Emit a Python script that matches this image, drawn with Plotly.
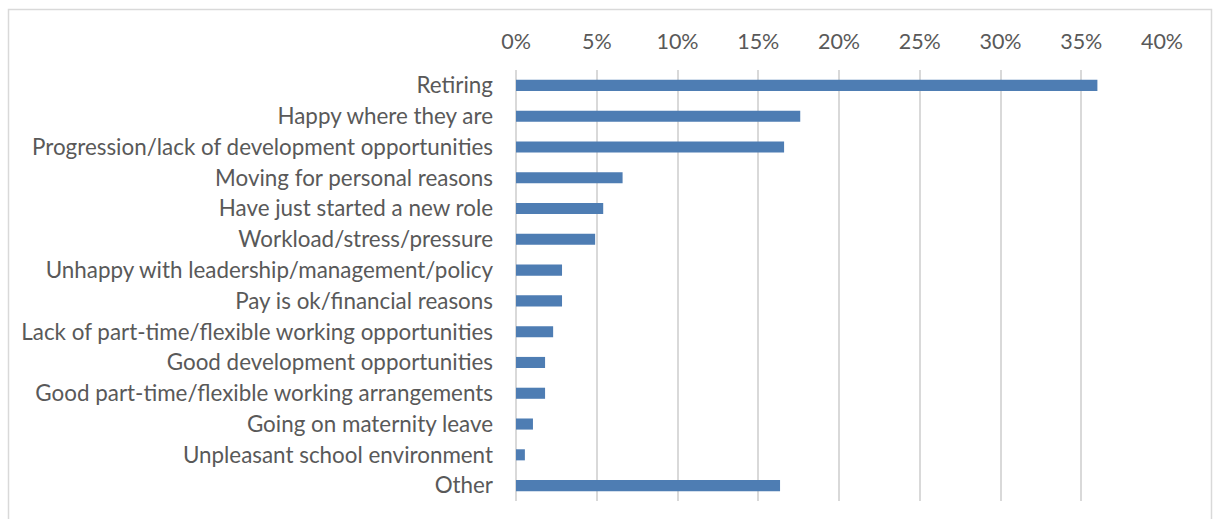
import plotly.graph_objects as go

# Reasons given, in display order (top to bottom)
reasons = [
    "Retiring",
    "Happy where they are",
    "Progression/lack of development opportunities",
    "Moving for personal reasons",
    "Have just started a new role",
    "Workload/stress/pressure",
    "Unhappy with leadership/management/policy",
    "Pay is ok/financial reasons",
    "Lack of part-time/flexible working opportunities",
    "Good development opportunities",
    "Good part-time/flexible working arrangements",
    "Going on maternity leave",
    "Unpleasant school environment",
    "Other",
]
# Share of respondents (%)
shares = [36.0, 17.6, 16.6, 6.6, 5.4, 4.9, 2.85, 2.85, 2.3, 1.8, 1.8, 1.05, 0.55, 16.35]

x_ticks = [0, 5, 10, 15, 20, 25, 30, 35, 40]
x_tick_text = [f"{v}%" for v in x_ticks]

W, H = 1213, 519
ML, MR, MT, MB = 516, 51, 70, 18
plot_w = W - ML - MR
plot_h = H - MT - MB

TEXT = "#595959"
GRID = "#d9d9d9"
BAR = "#4e7db3"
FONT = "Lato, Carlito, Calibri, sans-serif"

fig = go.Figure(
    go.Bar(
        x=shares,
        y=reasons,
        orientation="h",
        marker=dict(color=BAR, line=dict(width=0)),
        hoverinfo="x+y",
    )
)

fig.update_layout(
    width=W,
    height=H,
    margin=dict(l=ML, r=MR, t=MT, b=MB, pad=0),
    paper_bgcolor="white",
    plot_bgcolor="white",
    bargap=0.64,
    showlegend=False,
    font=dict(family=FONT, size=22, color=TEXT),
)

fig.update_xaxes(
    side="top",
    range=[0, 40],
    tickvals=x_ticks,
    ticktext=x_tick_text,
    showgrid=True,
    gridcolor=GRID,
    gridwidth=2,
    zeroline=True,
    zerolinecolor=GRID,
    zerolinewidth=2,
    showline=False,
    ticks="",
    ticklabelstandoff=16,
    tickfont=dict(family=FONT, size=21.5, color=TEXT),
    fixedrange=True,
)

fig.update_yaxes(
    type="category",
    categoryorder="array",
    categoryarray=reasons,
    autorange="reversed",
    showgrid=False,
    zeroline=False,
    showline=False,
    ticks="",
    ticklabelstandoff=22,
    tickfont=dict(family=FONT, size=22.4, color=TEXT),
    fixedrange=True,
)

# Chart-area border (bottom edge falls outside the view)
def px_to_paper_x(px):
    return (px - ML) / plot_w

def px_to_paper_y(py):
    return (H - MB - py) / plot_h

fig.add_shape(
    type="rect",
    xref="paper",
    yref="paper",
    x0=px_to_paper_x(8.5),
    x1=px_to_paper_x(1211.5),
    y0=px_to_paper_y(530),
    y1=px_to_paper_y(9.5),
    line=dict(color=GRID, width=1.5),
    fillcolor="rgba(0,0,0,0)",
    layer="below",
)

fig.write_html("out.html", config={"displayModeBar": False})
